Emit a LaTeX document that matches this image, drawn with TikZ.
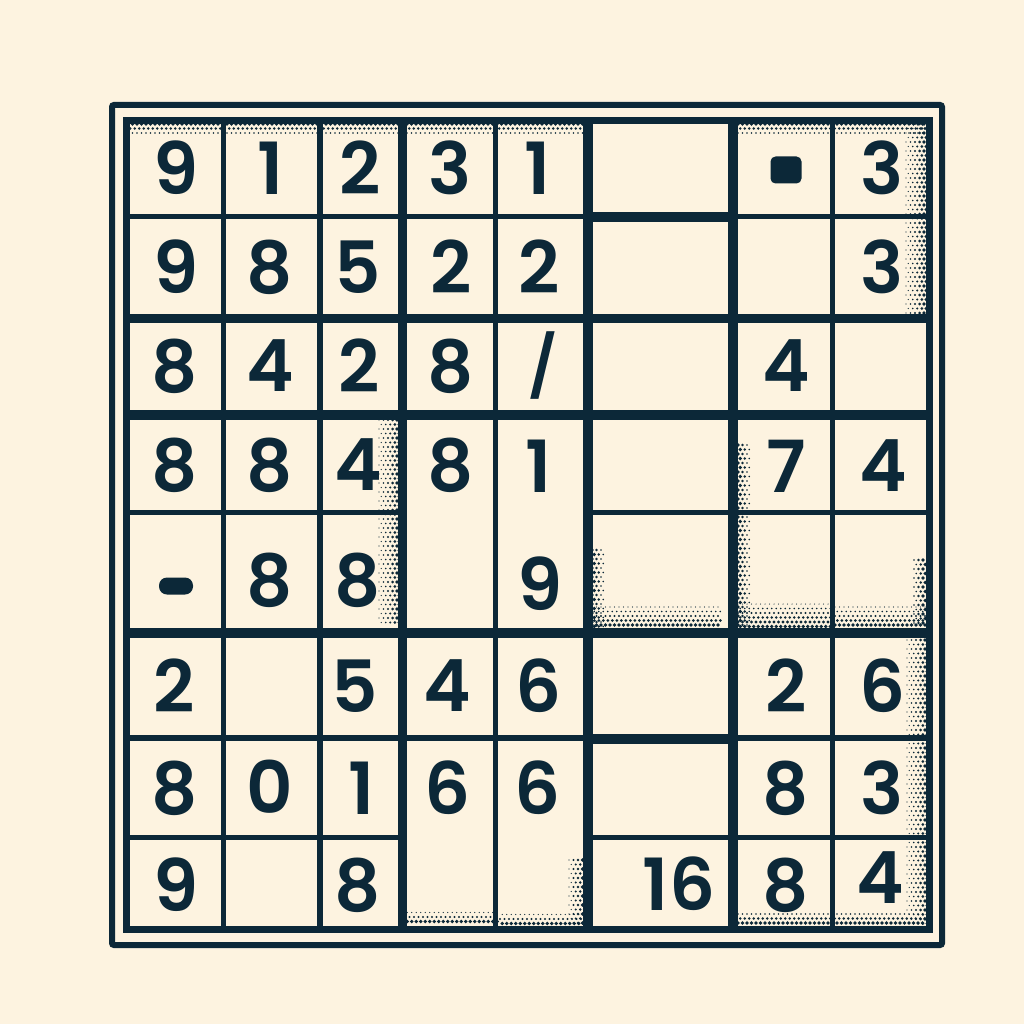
\documentclass[tikz,border=0pt]{standalone}
\usepackage{fontspec}
\setmainfont{Poppins}[BoldFont={Poppins SemiBold}]
\definecolor{paper}{RGB}{253,243,224}
\definecolor{ink}{RGB}{12,40,56}
\newcommand\halftone[5]{%
  \pgfmathtruncatemacro\htnx{#3/4.5}%
  \pgfmathtruncatemacro\htny{#4/4.5}%
  \foreach \i in {0,...,\htnx}{%
    \foreach \j in {0,...,\htny}{%
      \pgfmathsetmacro\htu{\i/max(\htnx,1)}%
      \pgfmathsetmacro\htv{\j/max(\htny,1)}%
      \ifcase#5 \pgfmathsetmacro\htt{1-\htv}\or \pgfmathsetmacro\htt{\htu}\or \pgfmathsetmacro\htt{\htv}\or \pgfmathsetmacro\htt{1-\htu}\fi
      \pgfmathsetmacro\htr{1.8*\htt}%
      \ifdim\htr pt>0.45pt \fill[ink] ({#1+\i*4.5+2.25*mod(\j,2)},{#2+\j*4.5}) circle[radius=\htr pt];\fi
    }}}
\begin{document}
\begin{tikzpicture}[x=1pt,y=-1pt,
  dig/.style={font=\fontsize{72}{72}\selectfont\bfseries, text=ink, inner sep=0pt},
  gthin/.style={draw=ink, line width=5pt},
  gmid/.style={draw=ink, line width=6pt},
  gthick/.style={draw=ink, line width=10pt}]
\fill[paper] (0,0) rectangle (1024,1024);
\useasboundingbox (0,0) rectangle (1024,1024);
% halftone shading
\halftone{128}{124}{456}{20}{0}
\halftone{738}{124}{188}{20}{0}
\halftone{897}{124}{28}{195}{1}
\halftone{370}{420}{28}{205}{1}
\halftone{592}{598}{130}{30}{2}
\halftone{592}{550}{18}{78}{3}
\halftone{738}{445}{22}{180}{3}
\halftone{738}{595}{92}{33}{2}
\halftone{835}{598}{90}{30}{2}
\halftone{905}{560}{20}{65}{1}
\halftone{898}{640}{27}{285}{1}
\halftone{738}{905}{187}{20}{2}
\halftone{560}{860}{25}{65}{1}
\halftone{500}{910}{85}{15}{2}
\halftone{405}{908}{90}{17}{2}
% frames
\draw[ink, line width=6pt, rounded corners=2pt] (112,105) rectangle (942,945);
\draw[ink, line width=7pt] (126,121) rectangle (929,929);
% vertical lines
\draw[gthin] (223,121) -- (223,929);
\draw[gmid] (320,121) -- (320,929);
\draw[draw=ink, line width=9pt] (402,121) -- (402,929);
\draw[gthin] (495,121) -- (495,929);
\draw[gthick] (588,121) -- (588,929);
\draw[gthick] (733,121) -- (733,929);
\draw[gthin] (832,121) -- (832,929);
% horizontal lines
\draw[gthin] (126,217) -- (929,217);
\draw[gthick] (588,217) -- (733,217);
\draw[draw=ink, line width=9pt] (126,318) -- (929,318);
\draw[gthick] (126,415) -- (929,415);
\draw[gthin] (126,512) -- (402,512);
\draw[gthin] (588,512) -- (929,512);
\draw[gthick] (126,633) -- (929,633);
\draw[gmid] (126,738) -- (929,738);
\draw[gthick] (588,739) -- (733,739);
\draw[gthin] (126,837) -- (402,837);
\draw[gthin] (588,837) -- (929,837);
% row 1
\node[dig] (r1c1) at (176,168) {9};
\node[dig] (r1c2) at (271,168) {1};
\node[dig] (r1c3) at (360,168) {2};
\node[dig] (r1c4) at (450,168) {3};
\node[dig] (r1c5) at (538,168) {1};
\node[fill=ink, rounded corners=5pt, minimum width=31pt, minimum height=27pt, inner sep=0pt] (r1c7) at (786,170) {};
\node[dig] (r1c8) at (882,168) {3};
% row 2
\node[dig] (r2c1) at (176,267) {9};
\node[dig] (r2c2) at (270,267) {8};
\node[dig] (r2c3) at (358,267) {5};
\node[dig] (r2c4) at (451,267) {2};
\node[dig] (r2c5) at (539,267) {2};
\node[dig] (r2c8) at (882,267) {3};
% row 3
\node[dig] (r3c1) at (175,366) {8};
\node[dig] (r3c2) at (270,366) {4};
\node[dig] (r3c3) at (359,366) {2};
\node[dig] (r3c4) at (451,366) {8};
\node[dig, font=\fontsize{60}{60}\selectfont\bfseries] (r3c5) at (543,366) {/};
\node[dig] (r3c7) at (786,366) {4};
% row 4
\node[dig] (r4c1) at (175,465) {8};
\node[dig] (r4c2) at (270,465) {8};
\node[dig] (r4c3) at (358,465) {4};
\node[dig] (r4c4) at (451,465) {8};
\node[dig] (r4c5) at (539,466) {1};
\node[dig] (r4c7) at (786,466) {7};
\node[dig] (r4c8) at (883,466) {4};
% row 5
\node[fill=ink, rounded corners=8pt, minimum width=34pt, minimum height=17pt, inner sep=0pt] (r5c1) at (176,586) {};
\node[dig] (r5c2) at (270,580) {8};
\node[dig] (r5c3) at (358,580) {8};
\node[dig] (r5c5) at (540,584) {9};
% row 6
\node[dig] (r6c1) at (174,686) {2};
\node[dig] (r6c3) at (355,686) {5};
\node[dig] (r6c4) at (447,686) {4};
\node[dig] (r6c5) at (539,686) {6};
\node[dig] (r6c7) at (786,686) {2};
\node[dig] (r6c8) at (883,686) {6};
% row 7
\node[dig] (r7c1) at (175,788) {8};
\node[dig] (r7c2) at (270,787) {0};
\node[dig] (r7c3) at (362,788) {1};
\node[dig] (r7c4) at (448,788) {6};
\node[dig] (r7c5) at (538,788) {6};
\node[dig] (r7c7) at (786,788) {8};
\node[dig] (r7c8) at (882,788) {3};
% row 8
\node[dig] (r8c1) at (176,885) {9};
\node[dig] (r8c3) at (358,885) {8};
\node[dig] (r8c6) at (679,884) {16};
\node[dig] (r8c7) at (786,885) {8};
\node[dig] (r8c8) at (880,878) {4};
\end{tikzpicture}
\end{document}
